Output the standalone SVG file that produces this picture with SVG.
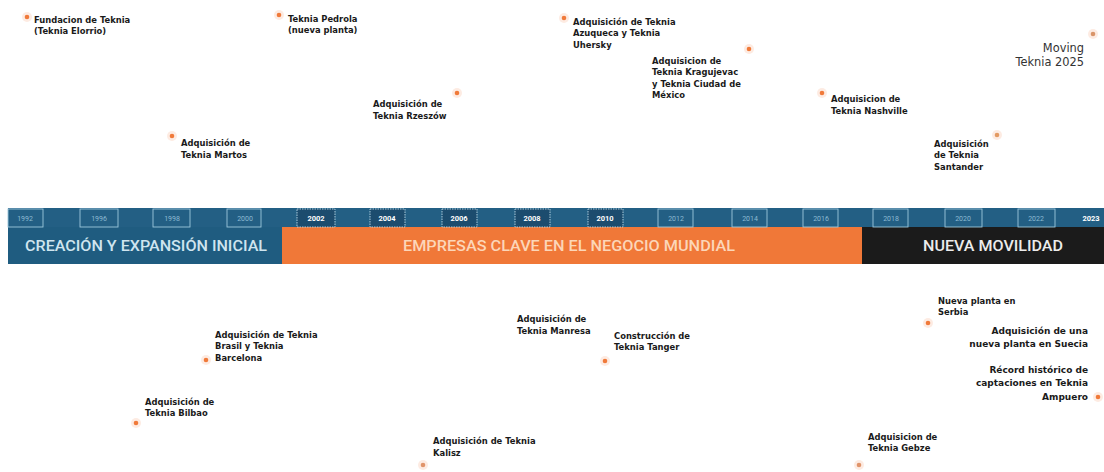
<svg xmlns="http://www.w3.org/2000/svg" width="1104" height="472" viewBox="0 0 1104 472">
<style>
.ev{font-family:"DejaVu Sans",sans-serif;font-weight:bold;font-size:8.4px;fill:#1a1a1a}
.evl{font-family:"DejaVu Sans",sans-serif;font-weight:bold;font-size:9px;fill:#1a1a1a}
.mv{font-family:"DejaVu Sans",sans-serif;font-size:11.4px;fill:#333}
.dot{fill:#f07a3a}
.glow{fill:#f07a3a;opacity:0.15}
.yr{font-family:"Roboto",sans-serif;font-size:7px;fill:#8dbad3;text-anchor:middle}
.yrh{font-family:"Roboto",sans-serif;font-size:7.5px;font-weight:bold;fill:#ffffff;text-anchor:middle}
.ybox{fill:none;stroke:#9cc7dc;stroke-width:0.9}
.yboxh{fill:#1c4c6e;stroke:#b9d8e6;stroke-width:0.9;stroke-dasharray:1.5 1}
.ph{font-family:"Roboto",sans-serif;font-size:15px;font-weight:500;text-anchor:middle}
</style>
<rect x="0" y="0" width="1104" height="472" fill="#ffffff"/>
<g id="timeline">
<rect x="8" y="208" width="1096" height="20" fill="#235f84"/>
<rect x="8" y="227" width="275" height="37" fill="#1f5c80"/>
<rect x="282" y="227" width="581" height="37" fill="#f07838"/>
<rect x="862" y="227" width="242" height="37" fill="#1b1b1b"/>
<text class="ph" x="146" y="251" fill="#cfe5ef" textLength="242" lengthAdjust="spacingAndGlyphs">CREACIÓN Y EXPANSIÓN INICIAL</text>
<text class="ph" x="569" y="251" fill="#fcd6b8" textLength="332" lengthAdjust="spacingAndGlyphs">EMPRESAS CLAVE EN EL NEGOCIO MUNDIAL</text>
<text class="ph" x="993" y="251" fill="#ececec" textLength="140" lengthAdjust="spacingAndGlyphs">NUEVA MOVILIDAD</text>
</g>
<g id="years">
<rect class="ybox" x="8" y="209" width="35" height="18"/><text class="yr" x="25" y="221">1992</text>
<rect class="ybox" x="80" y="209" width="38" height="18"/><text class="yr" x="99" y="221">1996</text>
<rect class="ybox" x="153" y="209" width="37" height="18"/><text class="yr" x="172" y="221">1998</text>
<rect class="ybox" x="227" y="209" width="34" height="18"/><text class="yr" x="245" y="221">2000</text>
<rect class="yboxh" x="297" y="209" width="38" height="18"/><text class="yrh" x="316" y="221">2002</text>
<rect class="yboxh" x="370" y="209" width="35" height="18"/><text class="yrh" x="387" y="221">2004</text>
<rect class="yboxh" x="442" y="209" width="35" height="18"/><text class="yrh" x="459" y="221">2006</text>
<rect class="yboxh" x="515" y="209" width="35" height="18"/><text class="yrh" x="532" y="221">2008</text>
<rect class="yboxh" x="588" y="209" width="35" height="18"/><text class="yrh" x="605" y="221">2010</text>
<rect class="ybox" x="658" y="209" width="35" height="18"/><text class="yr" x="676" y="221">2012</text>
<rect class="ybox" x="732" y="209" width="35" height="18"/><text class="yr" x="750" y="221">2014</text>
<rect class="ybox" x="803" y="209" width="35" height="18"/><text class="yr" x="821" y="221">2016</text>
<rect class="ybox" x="873" y="209" width="35" height="18"/><text class="yr" x="891" y="221">2018</text>
<rect class="ybox" x="945" y="209" width="37" height="18"/><text class="yr" x="963" y="221">2020</text>
<rect class="ybox" x="1018" y="209" width="37" height="18"/><text class="yr" x="1036" y="221">2022</text>
<text class="yrh" x="1091" y="221">2023</text>
</g>
<g id="connectors"></g>
<g id="ev-fundacion">
<circle class="glow" cx="27" cy="17" r="5"/><circle class="dot" cx="27" cy="17" r="2.3"/>
<text class="ev" x="34" y="23">Fundacion de Teknia</text>
<text class="ev" x="34" y="34">(Teknia Elorrio)</text>
</g>
<g id="ev-pedrola">
<circle class="glow" cx="279" cy="15" r="5"/><circle class="dot" cx="279" cy="15" r="2.3"/>
<text class="ev" x="288" y="22">Teknia Pedrola</text>
<text class="ev" x="288" y="33">(nueva planta)</text>
</g>
<g id="ev-martos">
<circle class="glow" cx="172" cy="136" r="5"/><circle class="dot" cx="172" cy="136" r="2.3"/>
<text class="ev" x="181" y="146">Adquisición de</text>
<text class="ev" x="181" y="158">Teknia Martos</text>
</g>
<g id="ev-rzeszow">
<circle class="glow" cx="457" cy="93" r="5"/><circle class="dot" cx="457" cy="93" r="2.3"/>
<text class="ev" x="373" y="107">Adquisición de</text>
<text class="ev" x="373" y="119">Teknia Rzeszów</text>
</g>
<g id="ev-azuqueca">
<circle class="glow" cx="564" cy="18" r="5"/><circle class="dot" cx="564" cy="18" r="2.3"/>
<text class="ev" x="573" y="25">Adquisición de Teknia</text>
<text class="ev" x="573" y="36">Azuqueca y Teknia</text>
<text class="ev" x="573" y="48">Uhersky</text>
</g>
<g id="ev-kragujevac">
<circle class="glow" cx="749" cy="49" r="5"/><circle class="dot" cx="749" cy="49" r="2.3"/>
<text class="ev" x="652" y="64">Adquisicion de</text>
<text class="ev" x="652" y="75">Teknia Kragujevac</text>
<text class="ev" x="652" y="87">y Teknia Ciudad de</text>
<text class="ev" x="652" y="98">México</text>
</g>
<g id="ev-nashville">
<circle class="glow" cx="822" cy="93" r="5"/><circle class="dot" cx="822" cy="93" r="2.3"/>
<text class="ev" x="831" y="102">Adquisicion de</text>
<text class="ev" x="831" y="114">Teknia Nashville</text>
</g>
<g id="ev-santander">
<circle class="glow" cx="997" cy="135" r="5"/><circle cx="997" cy="135" r="2.3" fill="#e39a62"/>
<text class="ev" x="934" y="147">Adquisición</text>
<text class="ev" x="934" y="158">de Teknia</text>
<text class="ev" x="934" y="170">Santander</text>
</g>
<g id="ev-moving">
<circle class="glow" cx="1093" cy="34" r="5"/><circle cx="1093" cy="34" r="2.3" fill="#d9956a"/>
<text class="mv" x="1084" y="52" text-anchor="end">Moving</text>
<text class="mv" x="1084" y="66" text-anchor="end">Teknia 2025</text>
</g>
<g id="ev-bilbao">
<circle class="glow" cx="136" cy="423" r="5"/><circle class="dot" cx="136" cy="423" r="2.3"/>
<text class="ev" x="145" y="405">Adquisición de</text>
<text class="ev" x="145" y="416">Teknia Bilbao</text>
</g>
<g id="ev-brasil">
<circle class="glow" cx="206" cy="360" r="5"/><circle class="dot" cx="206" cy="360" r="2.3"/>
<text class="ev" x="215" y="338">Adquisición de Teknia</text>
<text class="ev" x="215" y="349">Brasil y Teknia</text>
<text class="ev" x="215" y="361">Barcelona</text>
</g>
<g id="ev-kalisz">
<circle class="glow" cx="423" cy="465" r="5"/><circle cx="423" cy="465" r="2.3" fill="#e0946a"/>
<text class="ev" x="433" y="444">Adquisición de Teknia</text>
<text class="ev" x="433" y="456">Kalisz</text>
</g>
<g id="ev-manresa">
<text class="ev" x="517" y="322">Adquisición de</text>
<text class="ev" x="517" y="334">Teknia Manresa</text>
</g>
<g id="ev-tanger">
<circle class="glow" cx="605" cy="361" r="5"/><circle class="dot" cx="605" cy="361" r="2.3"/>
<text class="ev" x="614" y="339">Construcción de</text>
<text class="ev" x="614" y="350">Teknia Tanger</text>
</g>
<g id="ev-serbia">
<circle class="glow" cx="928" cy="323" r="5"/><circle class="dot" cx="928" cy="323" r="2.3"/>
<text class="ev" x="938" y="304">Nueva planta en</text>
<text class="ev" x="938" y="315">Serbia</text>
</g>
<g id="ev-suecia">
<text class="evl" x="1088" y="334" text-anchor="end">Adquisición de una</text>
<text class="evl" x="1088" y="347" text-anchor="end">nueva planta en Suecia</text>
</g>
<g id="ev-ampuero">
<circle class="glow" cx="1098" cy="397" r="5"/><circle class="dot" cx="1098" cy="397" r="2.3"/>
<text class="evl" x="1088" y="373" text-anchor="end">Récord histórico de</text>
<text class="evl" x="1088" y="386" text-anchor="end">captaciones en Teknia</text>
<text class="evl" x="1088" y="400" text-anchor="end">Ampuero</text>
</g>
<g id="ev-gebze">
<circle class="glow" cx="859" cy="465" r="5"/><circle cx="859" cy="465" r="2.3" fill="#e0946a"/>
<text class="ev" x="868" y="440" fill="#555">Adquisicion de</text>
<text class="ev" x="868" y="451" fill="#555">Teknia Gebze</text>
</g>
</svg>
